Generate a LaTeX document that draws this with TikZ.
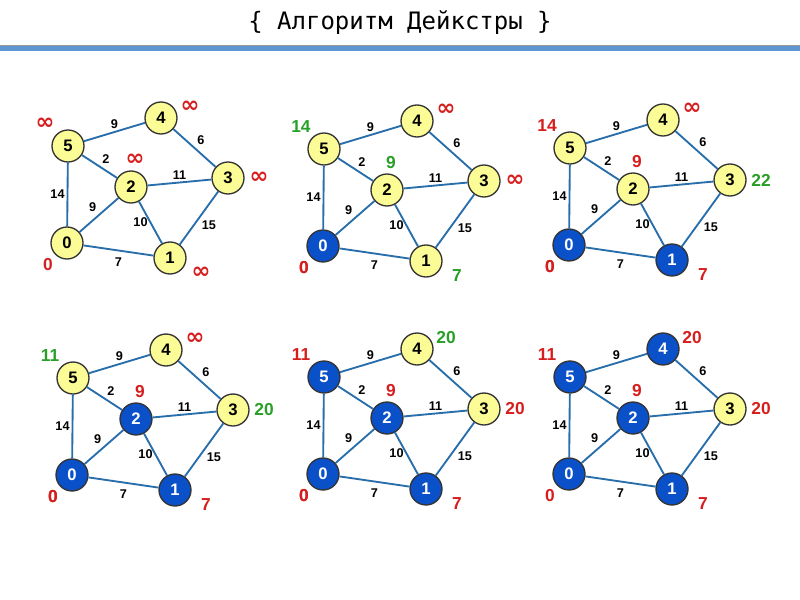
\documentclass[tikz,border=0pt]{standalone}
\usepackage{fontspec}
\setmainfont{Liberation Sans}
\newfontfamily\titlefont{DejaVu Sans Mono}
\newfontfamily\symfont{DejaVu Sans}
\definecolor{edgeblue}{RGB}{40,110,170}
\definecolor{nodeyellow}{RGB}{252,252,150}
\definecolor{nodeblue}{RGB}{10,80,200}
\definecolor{barblue}{RGB}{95,150,210}
\definecolor{okgreen}{RGB}{40,160,40}
\definecolor{badred}{RGB}{215,30,30}
\tikzset{
  yellownode/.style={circle,draw=black!80,line width=1pt,fill=nodeyellow,minimum size=24pt,inner sep=0pt,font=\bfseries\fontsize{12.5}{12.5}\selectfont},
  bluenode/.style={yellownode,fill=nodeblue,text=white},
  v0/.style={yellownode},v1/.style={yellownode},v2/.style={yellownode},
  v3/.style={yellownode},v4/.style={yellownode},v5/.style={yellownode},
  edge/.style={draw=edgeblue,line width=1.4pt},
  weight/.style={font=\bfseries\fontsize{9.5}{9.5}\selectfont,inner sep=1.5pt},
  dist/.style={font=\bfseries\fontsize{13}{13}\selectfont,text=badred,inner sep=0pt},
  newdist/.style={dist,text=okgreen}
}
% one graph of the sequence, node names prefixed with #1
\newcommand\dgraph[1]{
  \node[v5] (#1-5) at (68,146) {5};
  \node[v4] (#1-4) at (161,118) {4};
  \node[v2] (#1-2) at (131,187) {2};
  \node[v3] (#1-3) at (228,178) {3};
  \node[v0] (#1-0) at (67,243) {0};
  \node[v1] (#1-1) at (170,258) {1};
  \draw[edge] (#1-5) -- node[weight,above] {9} (#1-4);
  \draw[edge] (#1-5) -- node[weight,above right] {2} (#1-2);
  \draw[edge] (#1-2) -- node[weight,above] {11} (#1-3);
  \draw[edge] (#1-4) -- node[weight,above right] {6} (#1-3);
  \draw[edge] (#1-5) -- node[weight,left] {14} (#1-0);
  \draw[edge] (#1-0) -- node[weight,above left] {9} (#1-2);
  \draw[edge] (#1-2) -- node[weight,left] {10} (#1-1);
  \draw[edge] (#1-3) -- node[weight,below right] {15} (#1-1);
  \draw[edge] (#1-0) -- node[weight,below=3pt] {7} (#1-1);
}
% distance labels next to the nodes
\newcommand\dlabels[7]{
  \node[#7] at ([shift={(-23,-22)}]#1-5) {#2};
  \node[#7] at ([shift={(29,-11)}]#1-4) {#3};
  \node[#7] at ([shift={(4,-27)}]#1-2) {#4};
  \node[#7] at ([shift={(31,0)}]#1-3) {#5};
  \node[dist] at ([shift={(-19,22)}]#1-0) {0};
  \node[#7] at ([shift={(31,15)}]#1-1) {#6};
}
\newcommand\infmark{{\symfont\bfseries\fontsize{17}{17}\selectfont ∞}}
\begin{document}
\begin{tikzpicture}[x=0.75pt,y=-0.75pt]
\useasboundingbox (0,0) rectangle (800,600);
\node[font=\titlefont\fontsize{18}{18}\selectfont] (title) at (400,23) {\{ Алгоритм Дейкстры \}};
\fill[barblue] (0,45) rectangle (800,51);
\draw[black!40] (0,45) -- (800,45);

% step 1
\begin{scope}
  \dgraph{ga}
  \dlabels{ga}{\infmark}{\infmark}{\infmark}{\infmark}{\infmark}{dist}
\end{scope}
% step 2
\begin{scope}[shift={(256,3)},v0/.style={bluenode}]
  \dgraph{gb}
  \dlabels{gb}{14}{}{9}{}{7}{newdist}
  \dlabels{gb}{}{\infmark}{}{\infmark}{}{dist}
\end{scope}
% step 3
\begin{scope}[shift={(502,2)},v0/.style={bluenode},v1/.style={bluenode}]
  \dgraph{gc}
  \dlabels{gc}{14}{\infmark}{9}{}{7}{dist}
  \dlabels{gc}{}{}{}{22}{}{newdist}
\end{scope}
% step 4
\begin{scope}[shift={(5,232)},v0/.style={bluenode},v1/.style={bluenode},v2/.style={bluenode}]
  \dgraph{gd}
  \dlabels{gd}{}{\infmark}{9}{}{7}{dist}
  \dlabels{gd}{11}{}{}{20}{}{newdist}
\end{scope}
% step 5
\begin{scope}[shift={(256,231)},v0/.style={bluenode},v1/.style={bluenode},v2/.style={bluenode},v5/.style={bluenode}]
  \dgraph{ge}
  \dlabels{ge}{11}{}{9}{20}{7}{dist}
  \dlabels{ge}{}{20}{}{}{}{newdist}
\end{scope}
% step 6
\begin{scope}[shift={(502,231)},v0/.style={bluenode},v1/.style={bluenode},v2/.style={bluenode},v5/.style={bluenode},v4/.style={bluenode}]
  \dgraph{gf}
  \dlabels{gf}{11}{20}{9}{20}{7}{dist}
\end{scope}
\end{tikzpicture}
\end{document}
